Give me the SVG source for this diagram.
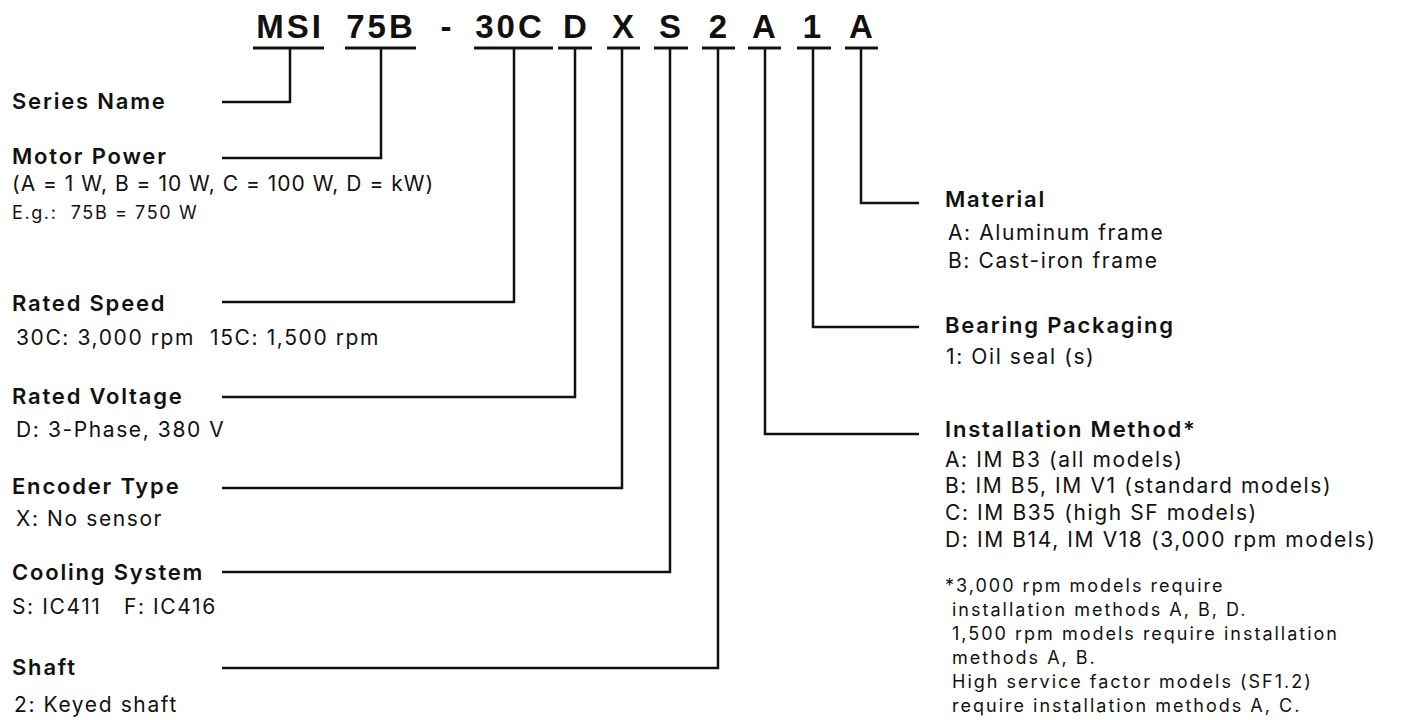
<svg xmlns="http://www.w3.org/2000/svg" width="1403" height="720" viewBox="0 0 1403 720">
<style>
.code{font-family:"Liberation Sans",Arial,sans-serif;font-weight:700;font-size:33px;fill:#111;text-anchor:middle}
.ul{stroke:#111;stroke-width:3;fill:none}
.ln{stroke:#111;stroke-width:2.5;fill:none}
.h{font-family:Inter,"Noto Sans",sans-serif;font-weight:600;font-size:22px;fill:#111;letter-spacing:1.8px}
.b{font-family:Inter,"Noto Sans",sans-serif;font-weight:400;font-size:21px;fill:#111;letter-spacing:1.6px;white-space:pre}
.s{font-family:Inter,"Noto Sans",sans-serif;font-weight:400;font-size:18px;fill:#111;letter-spacing:1.6px;white-space:pre}
.f{font-family:Inter,"Noto Sans",sans-serif;font-weight:400;font-size:18px;fill:#111;letter-spacing:2px;white-space:pre}
</style>
<rect width="1403" height="720" fill="#fff"/>
<g id="code">
<text class="code" x="290" y="38" letter-spacing="3">MSI</text>
<text class="code" x="381" y="38" letter-spacing="3">75B</text>
<text class="code" x="446" y="38">-</text>
<text class="code" x="510" y="38" letter-spacing="3">30C</text>
<text class="code" x="575" y="38">D</text>
<text class="code" x="623" y="38">X</text>
<text class="code" x="670" y="38">S</text>
<text class="code" x="718" y="38">2</text>
<text class="code" x="764" y="38">A</text>
<text class="code" x="812" y="38">1</text>
<text class="code" x="861" y="38">A</text>
<path class="ul" d="M253 48H324M345 48H416M474 48H553M558 48H592M607 48H640M654 48H688M702 48H735M748 48H781M797 48H831M845 48H878"/>
</g>
<g id="connectors">
<path class="ln" d="M290 48V102H222"/>
<path class="ln" d="M381 48V158H222"/>
<path class="ln" d="M514 48V302H222"/>
<path class="ln" d="M575 48V397H222"/>
<path class="ln" d="M622 48V488H222"/>
<path class="ln" d="M670 48V572H222"/>
<path class="ln" d="M718 48V668H222"/>
<path class="ln" d="M861 48V203H919"/>
<path class="ln" d="M813 48V327H919"/>
<path class="ln" d="M765 48V434H919"/>
</g>
<g id="series-name"><text class="h" x="12" y="109">Series Name</text></g>
<g id="motor-power">
<text class="h" x="12" y="164">Motor Power</text>
<text class="b" x="12" y="191" style="letter-spacing:1px">(A = 1 W, B = 10 W, C = 100 W, D = kW)</text>
<text class="s" x="12" y="219">E.g.:  75B = 750 W</text>
</g>
<g id="rated-speed">
<text class="h" x="12" y="311">Rated Speed</text>
<text class="b" x="16" y="345">30C: 3,000 rpm  15C: 1,500 rpm</text>
</g>
<g id="rated-voltage">
<text class="h" x="12" y="404">Rated Voltage</text>
<text class="b" x="16" y="437">D: 3-Phase, 380 V</text>
</g>
<g id="encoder-type">
<text class="h" x="12" y="494">Encoder Type</text>
<text class="b" x="16" y="526">X: No sensor</text>
</g>
<g id="cooling-system">
<text class="h" x="12" y="580">Cooling System</text>
<text class="b" x="12" y="614">S: IC411   F: IC416</text>
</g>
<g id="shaft">
<text class="h" x="12" y="675">Shaft</text>
<text class="b" x="14" y="712">2: Keyed shaft</text>
</g>
<g id="material">
<text class="h" x="945" y="207">Material</text>
<text class="b" x="948" y="240">A: Aluminum frame</text>
<text class="b" x="948" y="268">B: Cast-iron frame</text>
</g>
<g id="bearing-packaging">
<text class="h" x="945" y="333">Bearing Packaging</text>
<text class="b" x="946" y="364">1: Oil seal (s)</text>
</g>
<g id="installation-method">
<text class="h" x="945" y="437">Installation Method*</text>
<text class="b" x="945" y="467">A: IM B3 (all models)</text>
<text class="b" x="945" y="493">B: IM B5, IM V1 (standard models)</text>
<text class="b" x="945" y="520">C: IM B35 (high SF models)</text>
<text class="b" x="945" y="547">D: IM B14, IM V18 (3,000 rpm models)</text>
<text class="f" x="945" y="592">*3,000 rpm models require</text>
<text class="f" x="952" y="616">installation methods A, B, D.</text>
<text class="f" x="952" y="640">1,500 rpm models require installation</text>
<text class="f" x="952" y="664">methods A, B.</text>
<text class="f" x="952" y="688">High service factor models (SF1.2)</text>
<text class="f" x="952" y="712">require installation methods A, C.</text>
</g>
</svg>
